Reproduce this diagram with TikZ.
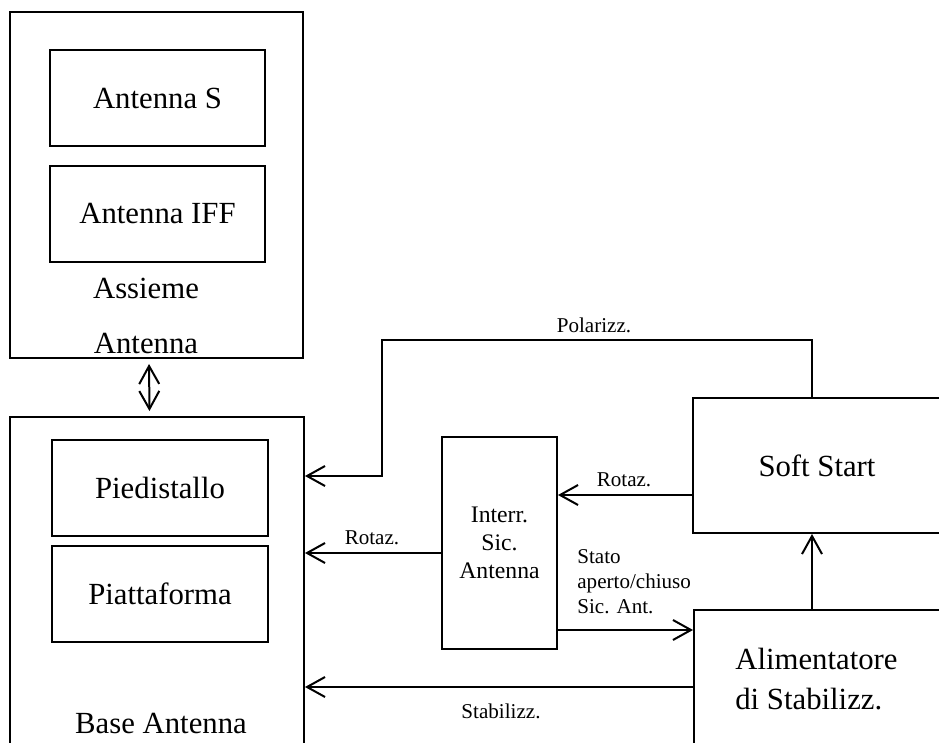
\documentclass[tikz,border=0pt]{standalone}
\usepackage{fontspec}
\setmainfont{Liberation Serif}
\usetikzlibrary{arrows.meta}
\newcommand{\bigtxt}{\fontsize{17.5}{21}\selectfont}
\newcommand{\smalltxt}{\fontsize{12}{14.2}\selectfont}
\newcommand{\midtxt}{\fontsize{13.5}{15.8}\selectfont}
\begin{document}
\begin{tikzpicture}[x=0.02cm,y=-0.02cm,
    box/.style={draw, line width=0.04cm, inner sep=0pt, font=\bigtxt},
    lbl/.style={inner sep=0pt, font=\smalltxt},
    arr/.style={line width=0.04cm, -{Straight Barb[length=3.6mm,width=4mm]}},
    dblarr/.style={line width=0.04cm, {Straight Barb[length=3.6mm,width=4mm]}-{Straight Barb[length=3.6mm,width=4mm]}}]
    \useasboundingbox (0,0) rectangle (939,743);
    \clip (0,0) rectangle (939,743);

    % Drawing box Assieme Antenna
    \node [box, minimum width=5.86cm, minimum height=6.92cm] (assieme) at (156.5,185) {};%
    \node [box, minimum width=4.3cm, minimum height=1.92cm] (antS) at (157.5,98) {Antenna S};%
    \node [box, minimum width=4.3cm, minimum height=1.92cm] (antIFF) at (157.5,214) {Antenna IFF};%
    \node [inner sep=0pt, font=\bigtxt, align=center] (assiemeLbl) at (146,316) {Assieme\\[10pt]Antenna};%

    % Drawing box Base Antenna
    \node [box, minimum width=5.88cm, minimum height=7.66cm] (base) at (157,608.5) {};%
    \node [box, minimum width=4.32cm, minimum height=1.92cm] (pied) at (160,488) {Piedistallo};%
    \node [box, minimum width=4.32cm, minimum height=1.92cm] (piatt) at (160,594) {Piattaforma};%
    \node [inner sep=0pt, font=\bigtxt] (baseLbl) at (161,723) {Base Antenna};%

    % Drawing link Assieme -- Base
    \draw [dblarr, shorten <=0.1cm, shorten >=0.1cm]
        ([xshift=-0.15cm]assieme.south) -- ([xshift=-0.15cm]base.north);%

    % Drawing box Interr. Sic. Antenna
    \node [box, font=\midtxt, align=center, minimum width=2.3cm, minimum height=4.24cm] (interr) at (499.5,543)
        {Interr.\\Sic.\\Antenna};%

    % Drawing box Soft Start
    \node [box, minimum width=4.96cm, minimum height=2.7cm] (soft) at (817,465.5) {Soft Start};%

    % Drawing box Alimentatore
    \node [box, minimum width=4.94cm, minimum height=3.8cm] (alim) at (817.5,705) {};%
    \node [inner sep=0pt, font=\bigtxt, align=left, anchor=west] (alimLbl) at (735,679)
        {Alimentatore\\[2pt]di Stabilizz.};%

    % Levels of the connectors
    \coordinate (polR) at (812,340);
    \coordinate (polL) at (382,340);
    \coordinate (polIn) at (382,476);
    \coordinate (yRotA) at (0,495);
    \coordinate (yRotB) at (0,553);
    \coordinate (yStato) at (0,630);
    \coordinate (yStab) at (0,687);

    % Drawing line Polarizz.
    \draw [arr] (soft.north -| polR) -- (polR) -- (polL) -- (polIn) -- (base.east |- polIn);%
    \node [lbl] (polLbl) at (594,325) {Polarizz.};%

    % Drawing line Rotaz. (Soft Start)
    \draw [arr] (soft.west |- yRotA) -- (interr.east |- yRotA);%
    \node [lbl] (rotLblA) at (624,480) {Rotaz.};%

    % Drawing line Rotaz. (Interr.)
    \draw [arr] (interr.west |- yRotB) -- (base.east |- yRotB);%
    \node [lbl] (rotLblB) at (372,538) {Rotaz.};%

    % Drawing line Stato
    \draw [arr] (interr.east |- yStato) -- (alim.west |- yStato);%
    \node [lbl, align=left, anchor=west] (statoLbl) at (577,582)
        {Stato\\aperto/chiuso\\Sic. Ant.};%

    % Drawing line Stabilizz.
    \draw [arr] (alim.west |- yStab) -- (base.east |- yStab);%
    \node [lbl] (stabLbl) at (501,711) {Stabilizz.};%

    % Drawing line Alimentatore -- Soft Start
    \draw [arr] (alim.north -| polR) -- (soft.south -| polR);%
\end{tikzpicture}
\end{document}
